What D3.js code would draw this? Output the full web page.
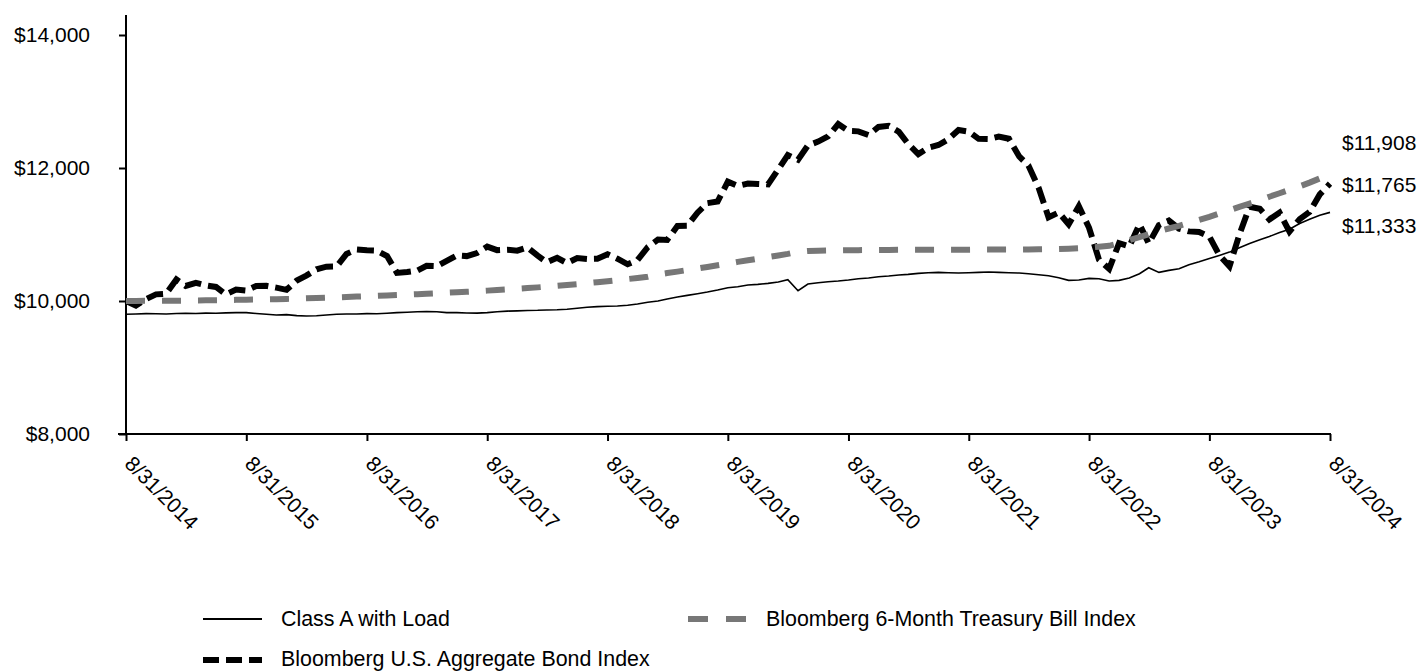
<!DOCTYPE html>
<html>
<head>
<meta charset="utf-8">
<script src="https://cdn.jsdelivr.net/npm/d3@7"></script>
<style>
  html, body { margin: 0; padding: 0; background: #fff; }
  svg { display: block; font-family: Arial, "Liberation Sans", sans-serif; }
</style>
</head>
<body>
<svg id="chart" width="1419" height="671"></svg>
<script>
// ---------------- DATA ----------------
const startYear = 2014, startMonth = 8; // August 2014, monthly to August 2024
const seriesNames = ["Class A with Load", "Bloomberg U.S. Aggregate Bond Index", "Bloomberg 6-Month Treasury Bill Index"];

const classA = [
  9800,
  9805, 9810, 9808, 9805,
  9812, 9815, 9812, 9818, 9815, 9822, 9825, 9825, 9812, 9800, 9790, 9795,
  9780, 9775, 9778, 9790, 9800, 9805, 9805, 9810, 9808, 9815, 9825, 9830,
  9838, 9840, 9838, 9825, 9825, 9820, 9818, 9825, 9838, 9848, 9852, 9858,
  9860, 9865, 9868, 9875, 9890, 9905, 9915, 9920, 9925, 9935, 9955, 9980,
  10000, 10030, 10060, 10085, 10110, 10135, 10165, 10200, 10215, 10240, 10250, 10265,
  10285, 10320, 10155, 10255, 10275, 10290, 10300, 10315, 10335, 10345, 10365, 10375,
  10390, 10400, 10415, 10425, 10430, 10425, 10420, 10425, 10430, 10435, 10430, 10425,
  10420, 10410, 10395, 10380, 10350, 10310, 10315, 10340, 10335, 10300, 10310, 10345,
  10410, 10500, 10430, 10460, 10485, 10545, 10590, 10640, 10685, 10735, 10800, 10865,
  10920, 10970, 11030, 11080, 11165, 11230, 11290, 11333
];

const aggBond = [
  10000,
  9932, 10029, 10100, 10110,
  10323, 10226, 10273, 10236, 10211, 10100, 10171, 10157, 10226, 10228, 10201, 10168,
  10308, 10381, 10476, 10516, 10519, 10708, 10776, 10764, 10758, 10676, 10423, 10437,
  10458, 10528, 10523, 10604, 10686, 10675, 10721, 10817, 10765, 10771, 10757, 10806,
  10682, 10581, 10649, 10570, 10645, 10633, 10635, 10704, 10636, 10552, 10615, 10810,
  10925, 10918, 11127, 11130, 11328, 11471, 11496, 11794, 11731, 11767, 11761, 11753,
  11979, 12195, 12123, 12339, 12397, 12475, 12661, 12558, 12551, 12495, 12617, 12635,
  12544, 12363, 12209, 12305, 12346, 12432, 12571, 12547, 12438, 12435, 12472, 12440,
  12173, 12037, 11702, 11259, 11331, 11153, 11425, 11101, 10622, 10484, 10869, 10820,
  11154, 10865, 11141, 11209, 11087, 11047, 11039, 10968, 10690, 10521, 10997, 11418,
  11387, 11226, 11330, 11044, 11231, 11338, 11603, 11765
];

const tBill = [
  10000,
  10001, 10002, 10003, 10004,
  10005, 10006, 10008, 10010, 10012, 10014, 10017, 10020, 10022, 10025, 10028, 10031,
  10035, 10040, 10045, 10050, 10055, 10060, 10066, 10072, 10078, 10084, 10090, 10096,
  10103, 10110, 10117, 10124, 10131, 10139, 10147, 10156, 10165, 10174, 10184, 10194,
  10205, 10216, 10228, 10241, 10254, 10268, 10283, 10298, 10314, 10330, 10347, 10365,
  10400, 10420, 10442, 10465, 10488, 10512, 10537, 10562, 10588, 10612, 10636, 10660,
  10684, 10708, 10740, 10752, 10757, 10760, 10762, 10764, 10765, 10766, 10767, 10768,
  10769, 10770, 10770, 10771, 10771, 10772, 10772, 10772, 10773, 10773, 10774, 10774,
  10775, 10776, 10777, 10778, 10781, 10786, 10793, 10803, 10815, 10830, 10870, 10915,
  10960, 11005, 11050, 11090, 11130, 11175, 11220, 11265, 11315, 11365, 11415, 11465,
  11515, 11568, 11620, 11672, 11725, 11780, 11843, 11908
];

const yTickValues = [8000, 10000, 12000, 14000];
const xTickYears = [2014, 2015, 2016, 2017, 2018, 2019, 2020, 2021, 2022, 2023, 2024];
const endLabels = ["$11,908", "$11,765", "$11,333"];

// ---------------- CHART ----------------
const svg = d3.select("#chart");
const fontSize = 21;
const legendFontSize = 21.4;

const dates = classA.map((_, i) => new Date(startYear, startMonth + i, 0)); // month-end dates
const x = d3.scaleTime()
  .domain([new Date(2014, 7, 31), new Date(2024, 7, 31)])
  .range([126, 1330]);
const y = d3.scaleLinear().domain([8000, 14000]).range([434, 35]);

const fmtMoney = v => "$" + d3.format(",")(v);

// Y axis
const yAxis = d3.axisLeft(y).tickValues(yTickValues).tickSize(7).tickPadding(29)
  .tickFormat(fmtMoney);
const gy = svg.append("g").attr("transform", "translate(126,0)").call(yAxis);
gy.select(".domain").remove();
gy.selectAll(".tick line").attr("stroke", "#000").attr("stroke-width", 2);
gy.selectAll(".tick text").attr("font-size", fontSize).attr("fill", "#000")
  .attr("font-family", "Arial, 'Liberation Sans', sans-serif");
svg.append("line").attr("x1", 126).attr("x2", 126).attr("y1", 15).attr("y2", 435)
  .attr("stroke", "#000").attr("stroke-width", 2);

// X axis
const xTicks = xTickYears.map(yr => new Date(yr, 7, 31));
const xAxis = d3.axisBottom(x).tickValues(xTicks).tickSize(7)
  .tickFormat(d => `${d.getMonth() + 1}/${d.getDate()}/${d.getFullYear()}`);
const gx = svg.append("g").attr("transform", "translate(0,434)").call(xAxis);
gx.select(".domain").remove();
gx.selectAll(".tick line").attr("stroke", "#000").attr("stroke-width", 2);
gx.selectAll(".tick text")
  .attr("font-size", fontSize).attr("fill", "#000")
  .attr("font-family", "Arial, 'Liberation Sans', sans-serif")
  .attr("text-anchor", "start")
  .attr("dy", null).attr("y", null)
  .attr("transform", "translate(-3,31) rotate(45)");
svg.append("line").attr("x1", 118).attr("x2", 1331).attr("y1", 434).attr("y2", 434)
  .attr("stroke", "#000").attr("stroke-width", 2);

// Lines
const line = d3.line().x((d, i) => x(dates[i])).y(d => y(d));

svg.append("path").datum(aggBond).attr("d", line)
  .attr("fill", "none").attr("stroke", "#000").attr("stroke-width", 6)
  .attr("stroke-dasharray", "17,7").attr("stroke-linejoin", "miter");

svg.append("path").datum(tBill).attr("d", line)
  .attr("fill", "none").attr("stroke", "#777777").attr("stroke-width", 6)
  .attr("stroke-dasharray", "19,17");

svg.append("path").datum(classA).attr("d", line)
  .attr("fill", "none").attr("stroke", "#000").attr("stroke-width", 1.6);

// End labels
const labelY = [150, 192, 233];
svg.selectAll("text.endlabel").data(endLabels).enter().append("text")
  .attr("class", "endlabel")
  .attr("x", 1342).attr("y", (d, i) => labelY[i])
  .attr("font-size", fontSize).attr("fill", "#000")
  .text(d => d);

// Legend
const legend = [
  { name: seriesNames[0], x: 203, y: 619, ty: 626, stroke: "#000", w: 2, dash: null },
  { name: seriesNames[2], x: 688, y: 619, ty: 626, stroke: "#777777", w: 6, dash: "20,18" },
  { name: seriesNames[1], x: 203, y: 660, ty: 665.5, stroke: "#000", w: 6, dash: "16,7" }
];
const lg = svg.append("g");
legend.forEach(l => {
  const ln = lg.append("line").attr("x1", l.x).attr("x2", l.x + 59)
    .attr("y1", l.y).attr("y2", l.y)
    .attr("stroke", l.stroke).attr("stroke-width", l.w);
  if (l.dash) ln.attr("stroke-dasharray", l.dash);
  lg.append("text").attr("x", l.x + 78).attr("y", l.ty)
    .attr("font-size", legendFontSize).attr("fill", "#000").text(l.name);
});
</script>
</body>
</html>
